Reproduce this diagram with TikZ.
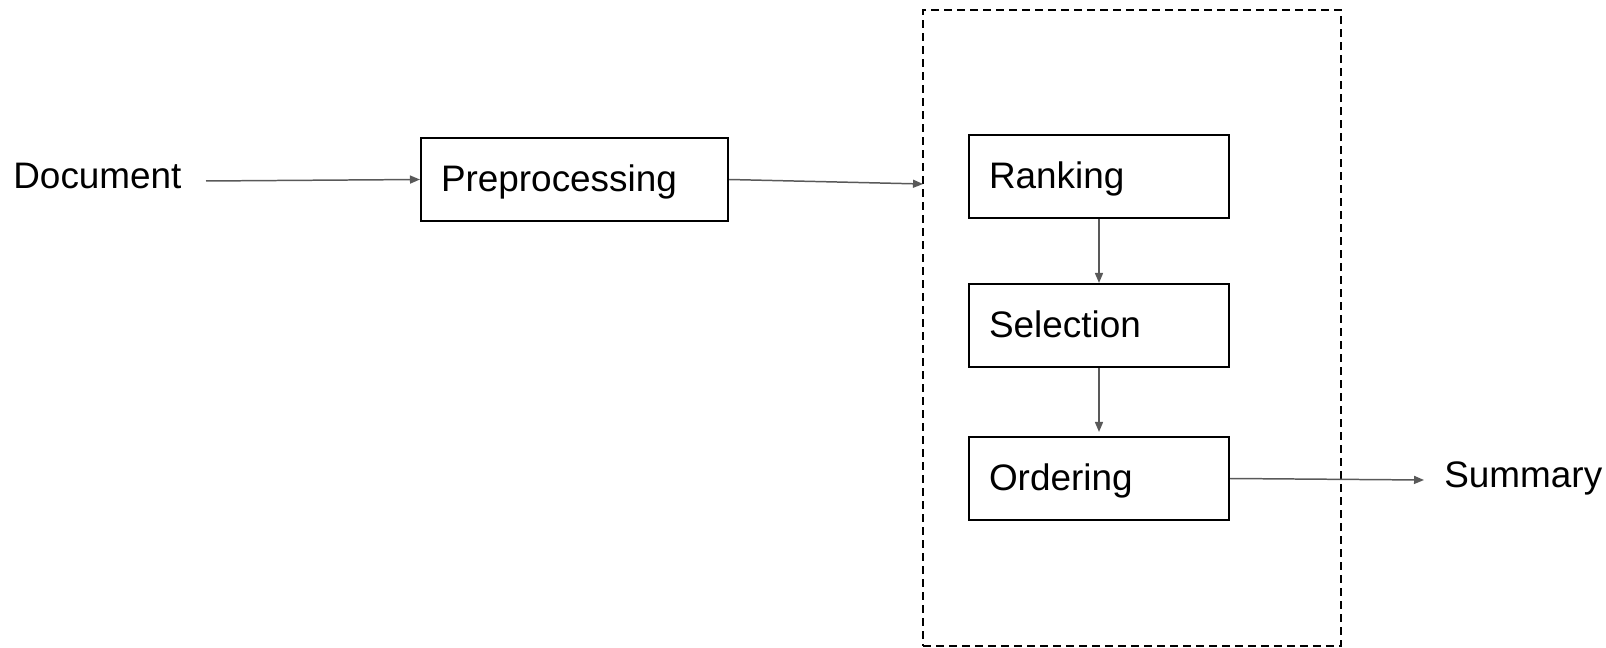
\documentclass[tikz,border=0pt]{standalone}
\usepackage{fontspec}
\setmainfont{Liberation Sans}
\usetikzlibrary{arrows.meta}
\definecolor{linkgray}{HTML}{595959}
\tikzset{
  x=0.02cm, y=-0.02cm,
  every node/.style={font=\fontsize{21}{25}\selectfont},
  stagebox/.style={draw=black, line width=1.2pt, rectangle, minimum height=1.66cm,
    inner xsep=0.4cm, inner ysep=0pt, text height=17.6pt, text depth=4.4pt,
    align=left},
  group/.style={draw=black, line width=1.1pt, dash pattern=on 0.16cm off 0.1cm,
    minimum width=8.36cm, minimum height=12.72cm, inner sep=0pt},
  link/.style={draw=linkgray, line width=0.85pt,
    -{Triangle[length=0.2cm, width=0.16cm]}},
  label/.style={inner sep=0pt, anchor=base west}
}
\begin{document}
\begin{tikzpicture}
\useasboundingbox (0,0) rectangle (1606,648);

% stages and the grouping frame
\node[group] (stage) at (1132,328) {};
\node[stagebox, text width=5.34cm] (pre) at (574.5,179.5) {Preprocessing};
\node[stagebox, text width=4.4cm] (rank) at (1099,176.5) {Ranking};
\node[stagebox, text width=4.4cm] (sel) at (1099,325.5) {Selection};
\node[stagebox, text width=4.4cm] (ord) at (1099,478.5) {Ordering};

% input and output labels
\node[label] (doc) at (13,189) {Document};
\node[label] (sum) at (1444,487) {Summary};

% free ends of the connectors
\coordinate (docout) at (206,181);
\coordinate (stagein) at (923,184);
\coordinate (sumin) at (1424,480);

% connectors
\draw[link] (docout) -- (pre.west);
\draw[link] (pre.east) -- (stagein);
\draw[link] (rank.south) -- (sel.north);
\draw[link] (sel.south) -- ([yshift=0.08cm]ord.north);
\draw[link] (ord.east) -- (sumin);
\end{tikzpicture}
\end{document}
